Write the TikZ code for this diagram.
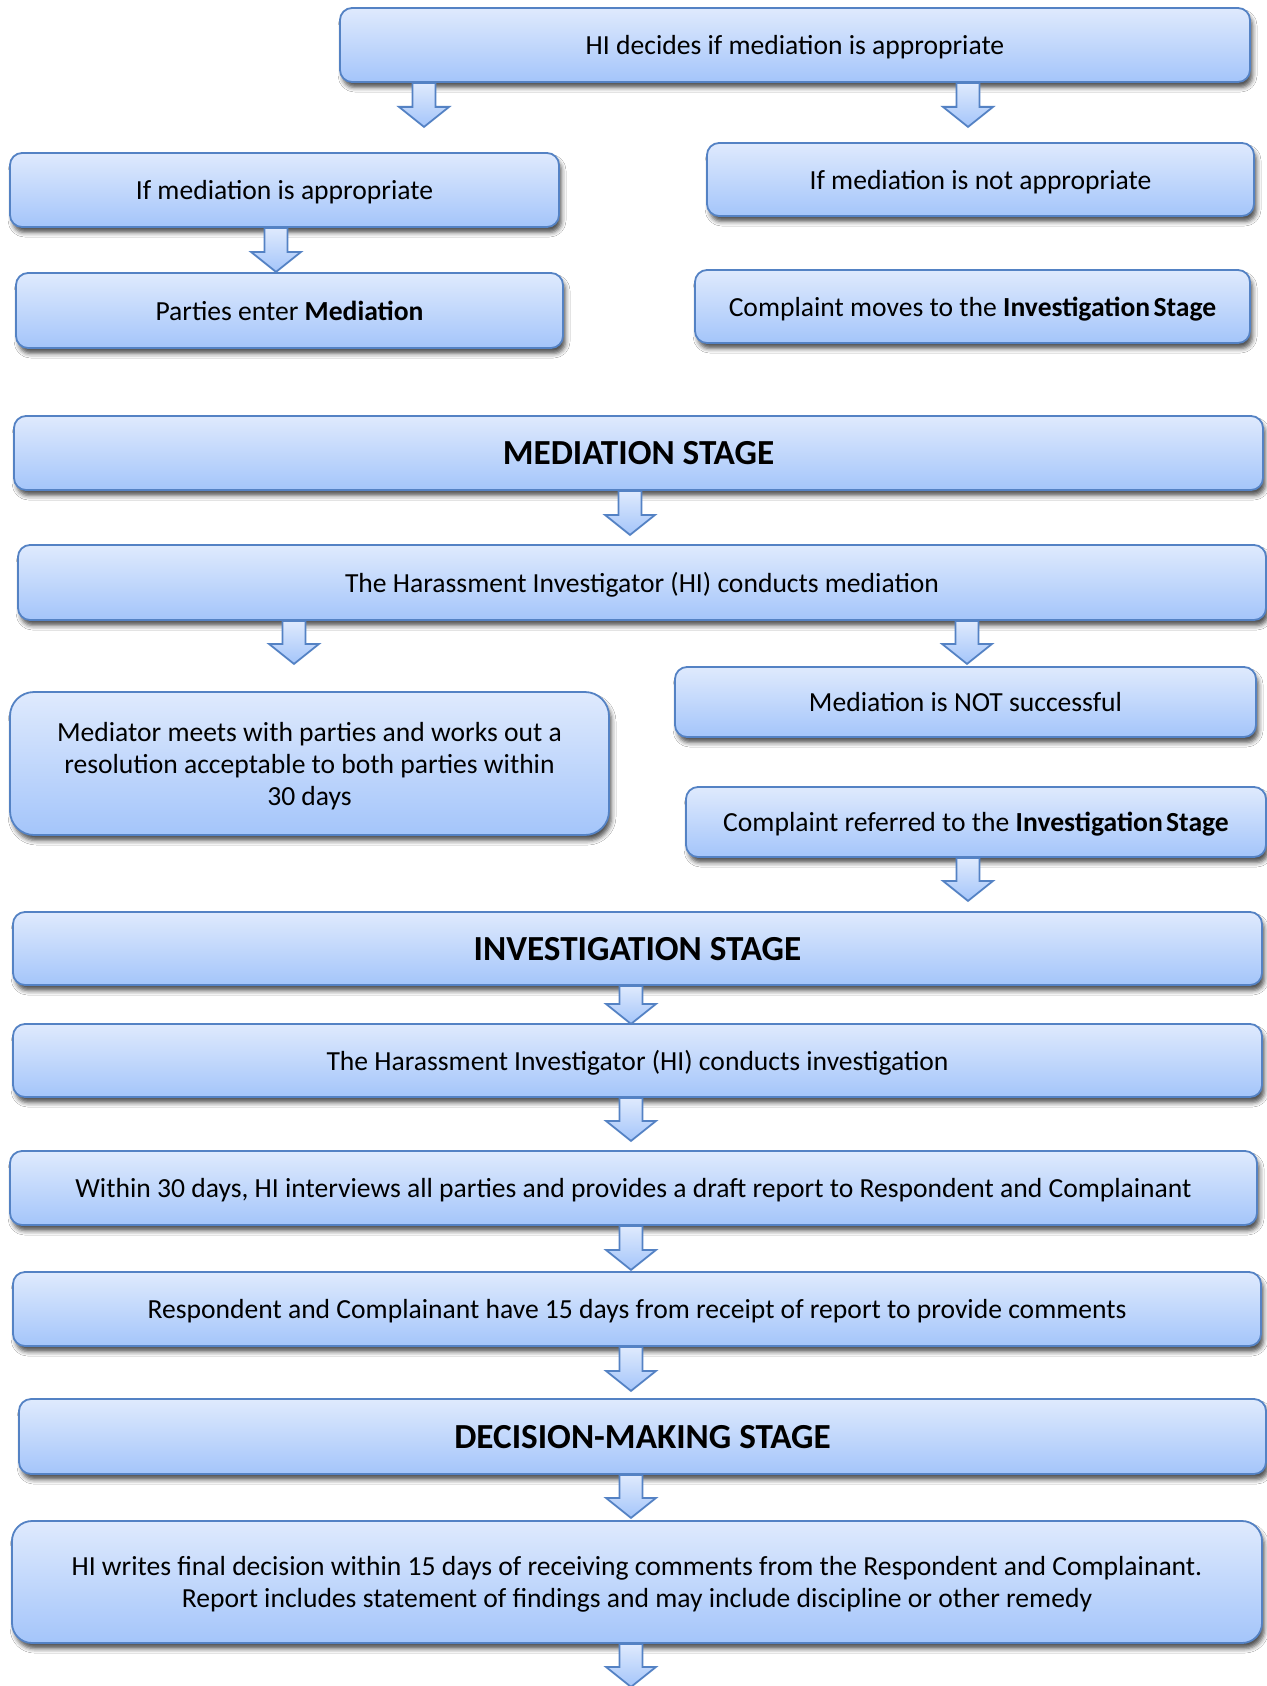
\documentclass[tikz,border=0pt]{standalone}
\usepackage{fontspec}
\setmainfont{Carlito}
\usetikzlibrary{shadows.blur}
\definecolor{boxtop}{RGB}{223,234,253}
\definecolor{boxbot}{RGB}{164,197,250}
\definecolor{boxline}{RGB}{84,130,196}
\tikzset{
  bw/.style={minimum width={#1*0.5pt}},
  bh/.style={minimum height={#1*0.5pt}},
  box/.style={draw=boxline, line width=0.9pt, top color=boxtop, bottom color=boxbot,
    rounded corners=6pt, font=\fontsize{13.8}{16}\selectfont, align=center, inner sep=0pt,
    text depth=0pt,
    blur shadow={shadow xshift=1.3pt, shadow yshift=-2.8pt, shadow blur radius=2.2pt, shadow opacity=68}},
  stagebox/.style={box, font=\fontsize{17.6}{20}\selectfont\bfseries},
  pics/barrow/.style={code={
    \path[draw=boxline, line width=0.9pt, top color=boxtop, bottom color=boxbot, line join=miter]
      (-11.5,0) -- (-11.5,{#1-20}) -- (-25,{#1-20}) -- (0,#1) -- (25,{#1-20}) -- (11.5,{#1-20}) -- (11.5,0) -- cycle;}}
}
\begin{document}
\begin{tikzpicture}[x=0.5pt,y=-0.5pt]
\useasboundingbox (0,0) rectangle (1267,1686);
\fill[white] (0,0) rectangle (1267,1686);

\node[box, bw=910, bh=74] (decide) at (795,45) {HI decides if mediation is appropriate};
\node[box, bw=549, bh=74] (ifapp) at (284.5,190) {If mediation is appropriate};
\node[box, bw=547, bh=75] (parties) at (289.5,310.5) {Parties enter \textbf{Mediation}};
\node[box, bw=547, bh=73] (ifnot) at (980.5,179.5) {If mediation is not appropriate};
\node[box, bw=555, bh=73] (moves) at (972.5,306.5) {Complaint moves to the \textbf{Investigation\hspace{0.12em}Stage}};

\node[stagebox, bw=1249, bh=74] (medstage) at (638.5,453) {MEDIATION STAGE};
\node[box, bw=1248, bh=75] (conductmed) at (642,582.5) {The Harassment Investigator (HI) conducts mediation};
\node[box, bw=599, bh=143, rounded corners=12pt] (mediator) at (309.5,763.5)
  {Mediator meets with parties and works out a\\resolution acceptable to both parties within\\30 days};
\node[box, bw=581, bh=70] (notsucc) at (965.5,702) {Mediation is NOT successful};
\node[box, bw=580, bh=70] (referred) at (976,822) {Complaint referred to the \textbf{Investigation\hspace{0.12em}Stage}};

\node[stagebox, bw=1249, bh=73] (invstage) at (637.5,948.5) {INVESTIGATION STAGE};
\node[box, bw=1249, bh=73] (conductinv) at (637.5,1060.5) {The Harassment Investigator (HI) conducts investigation};
\node[box, bw=1247, bh=74] (within) at (633.5,1188) {Within 30 days, HI interviews all parties and provides a draft report to Respondent and Complainant};
\node[box, bw=1248, bh=74] (respond) at (637,1309) {Respondent and Complainant have 15 days from receipt of report to provide comments};
\node[stagebox, bw=1247, bh=75] (decstage) at (642.5,1436.5) {DECISION-MAKING STAGE};
\node[box, bw=1250, bh=122, rounded corners=10pt] (final) at (637,1582)
  {HI writes final decision within 15 days of receiving comments from the Respondent and Complainant.\\Report includes statement of findings and may include discipline or other remedy};

\pic at (decide.south -| 424,0) {barrow=44};
\pic at (decide.south -| 968,0) {barrow=44};
\pic at (ifapp.south -| 276,0) {barrow=44};
\pic at (medstage.south -| 630,0) {barrow=44};
\pic at (conductmed.south -| 294,0) {barrow=43};
\pic at (conductmed.south -| 967,0) {barrow=43};
\pic at (referred.south -| 968,0) {barrow=43};
\pic at (invstage.south -| 631,0) {barrow=38};
\pic at (conductinv.south -| 631,0) {barrow=43};
\pic at (within.south -| 631,0) {barrow=44};
\pic at (respond.south -| 631,0) {barrow=44};
\pic at (decstage.south -| 631,0) {barrow=43};
\pic at (final.south -| 631,0) {barrow=43};
\end{tikzpicture}
\end{document}
